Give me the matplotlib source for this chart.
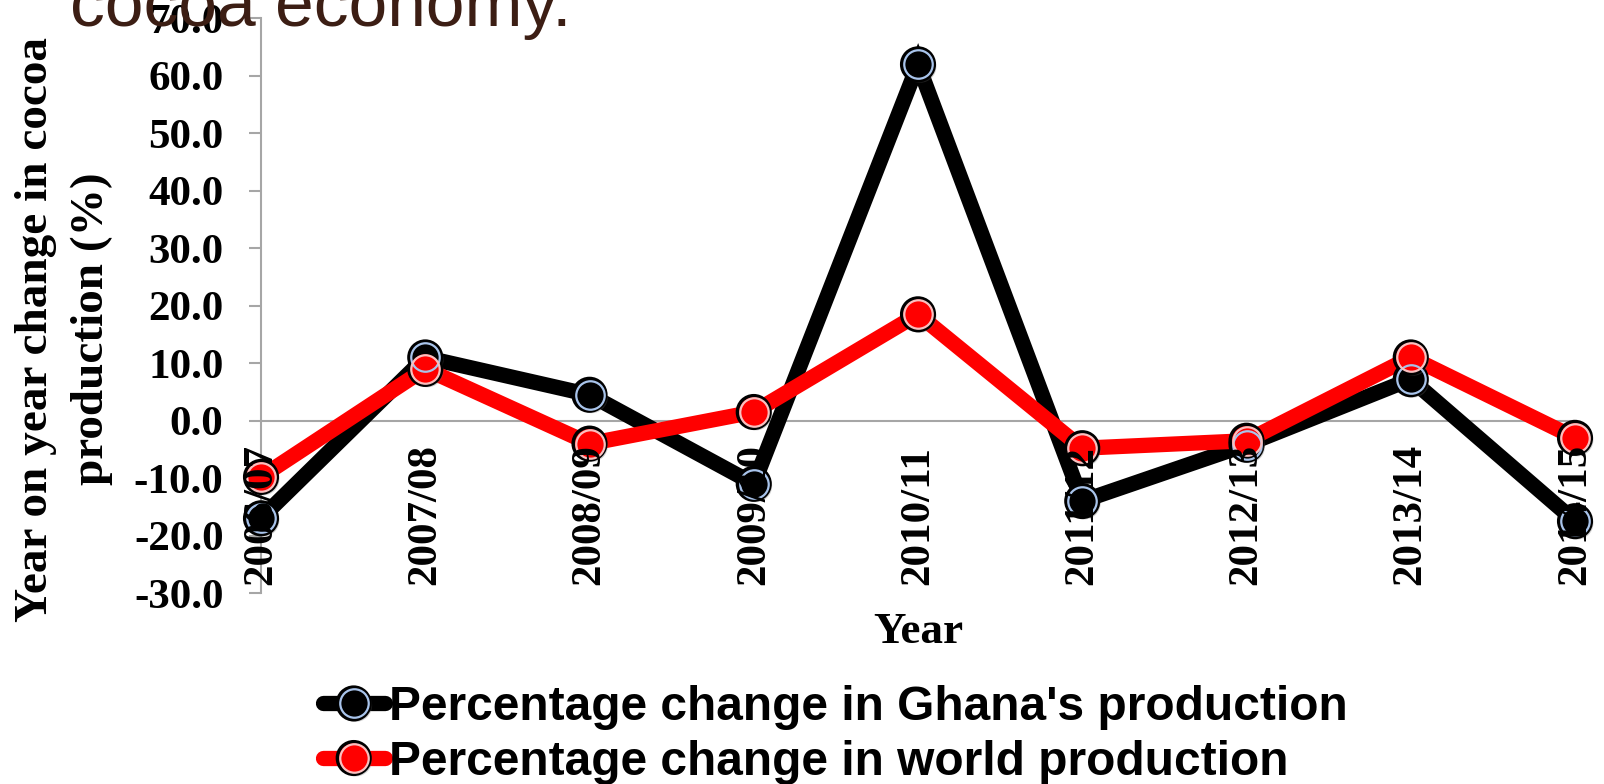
import numpy as np
import matplotlib
matplotlib.use("Agg")
import matplotlib.pyplot as plt
import matplotlib.patheffects as pe
from matplotlib.ticker import FormatStrFormatter

# Data
seasons = ['2006/07', '2007/08', '2008/09', '2009/10', '2010/11',
           '2011/12', '2012/13', '2013/14', '2014/15']
ghana = [-17.0, 11.0, 4.5, -11.0, 62.0, -14.0, -4.2, 7.2, -17.5]
world = [-9.8, 9.0, -4.0, 1.5, 18.5, -4.8, -3.5, 11.0, -3.0]
yticks = [-30, -20, -10, 0, 10, 20, 30, 40, 50, 60, 70]

serif = 'Liberation Serif'
sans = 'Liberation Sans'
grey = '#a6a6a6'

W, H = 1604, 784
fig = plt.figure(figsize=(W / 100, H / 100), dpi=100)
ax = fig.add_axes([261 / W, 1 - 593 / H, (1575 - 261) / W, (593 - 18.4) / H])

x = np.arange(len(seasons))
shadow = [pe.SimplePatchShadow(offset=(1.5, -1.5), shadow_rgbFace='0.4', alpha=0.3),
          pe.Normal()]

def draw_series(vals, face, ring):
    line, = ax.plot(x, vals, color=face, lw=11, solid_joinstyle='miter',
                    solid_capstyle='round', zorder=3, clip_on=False)
    outer, = ax.plot(x, vals, ls='none', marker='o', ms=23.5, mfc=face,
                     mec='black', mew=2.5, zorder=4, clip_on=False,
                     path_effects=shadow)
    inner, = ax.plot(x, vals, ls='none', marker='o', ms=20.5, mfc='none',
                     mec=ring, mew=1.6, zorder=5, clip_on=False)
    return (line, outer, inner)

h_ghana = draw_series(ghana, 'black', '#a9c4eb')
h_world = draw_series(world, '#ff0000', '#f9c0c0')

ax.set_xlim(0, 8)
ax.set_ylim(-30, 70)
ax.set_yticks(yticks)
ax.yaxis.set_major_formatter(FormatStrFormatter('%.1f'))
ax.set_xticks([])
for s in ['top', 'right', 'bottom']:
    ax.spines[s].set_visible(False)
ax.spines['left'].set_color(grey)
ax.spines['left'].set_linewidth(1.5)
ax.tick_params(axis='y', length=9, width=1.5, color=grey, pad=18,
               labelsize=31)
for lab in ax.get_yticklabels():
    lab.set_fontfamily(serif)
    lab.set_fontweight('bold')
ax.axhline(0, color=grey, lw=1.5, zorder=1)

# category labels sit inside the plot, at the bottom
for i, s in enumerate(seasons):
    ax.text(i, -28.6, s, rotation=90, ha='center', va='bottom',
            fontsize=31, fontfamily=serif, fontweight='bold', zorder=10)

fig.text(918 / W, 1 - 632 / H, 'Year', ha='center', va='center',
         fontsize=32.5, fontfamily=serif, fontweight='bold')
fig.text(64 / W, 1 - 329 / H, 'Year on year change in cocoa\nproduction (%)',
         rotation=90, ha='center', va='center', multialignment='center',
         fontsize=34, fontfamily=serif, fontweight='bold', linespacing=1.45)

# partly cut-off slide title
fig.text(70 / W, 1 - 26.5 / H, 'cocoa economy.', ha='left', va='baseline',
         fontsize=50, fontfamily=sans, color='#3c1e14')

fig.legend([h_ghana, h_world],
           ["Percentage change in Ghana's production",
            'Percentage change in world production'],
           loc='center', bbox_to_anchor=(835 / W, 1 - 735 / H),
           frameon=False, handlelength=1.3, handletextpad=0.08,
           labelspacing=0.2, borderpad=0,
           prop={'family': sans, 'weight': 'bold', 'size': 34.5})

fig.savefig('out.png', dpi=100, facecolor='white')
